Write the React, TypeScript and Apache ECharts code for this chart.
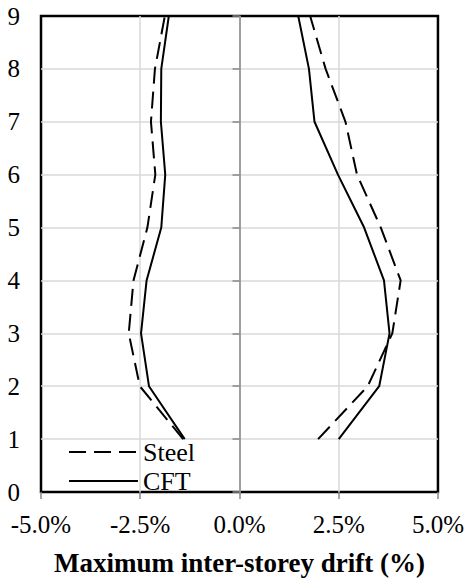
import React, { useEffect, useRef } from "react";
import * as echarts from "echarts";

const floors = [1, 2, 3, 4, 5, 6, 7, 8, 9];
const steelNeg = [-1.42, -2.51, -2.79, -2.67, -2.32, -2.12, -2.23, -2.13, -1.88];
const steelPos = [1.98, 3.23, 3.85, 4.06, 3.56, 2.96, 2.67, 2.17, 1.78];
const cftNeg = [-1.38, -2.28, -2.48, -2.34, -1.97, -1.87, -1.98, -1.97, -1.78];
const cftPos = [2.5, 3.52, 3.78, 3.64, 3.14, 2.48, 1.89, 1.75, 1.48];
const xTicks = [-5, -2.5, 0, 2.5, 5];
const legendNames = ["Steel", "CFT"];
const xTitle = "Maximum inter-storey drift (%)";

const FONT = "serif";

function pairs(xs: number[]) {
  return floors.map((f, i) => [xs[i], f]);
}

export default function App() {
  const ref = useRef<HTMLDivElement>(null);
  useEffect(() => {
    if (!ref.current) return;
    const chart = echarts.init(ref.current, undefined, { renderer: "svg" });
    const dashed = { color: "#000", width: 2, type: [17, 8] as any };
    const solid = { color: "#000", width: 2, type: "solid" as any };
    const mk = (name: string, xs: number[], ls: any) => ({
      name,
      type: "line",
      data: pairs(xs),
      symbol: "none",
      showSymbol: false,
      lineStyle: ls,
      itemStyle: { color: "#000" },
      z: 5,
    });
    chart.setOption({
      animation: false,
      backgroundColor: "#ffffff",
      grid: {
        left: 41, right: 26, top: 16, bottom: 89,
        show: true, borderColor: "#000", borderWidth: 2.5, backgroundColor: "rgba(0,0,0,0)",
      },
      legend: {
        data: legendNames,
        orient: "vertical",
        left: 68,
        top: 439,
        itemWidth: 69,
        itemHeight: 14,
        itemGap: 3,
        padding: 0,
        itemStyle: { opacity: 0 },
        textStyle: { fontFamily: FONT, fontSize: 26, color: "#000", lineHeight: 26 },
      },
      xAxis: {
        type: "value",
        min: xTicks[0],
        max: xTicks[xTicks.length - 1],
        interval: 2.5,
        name: xTitle,
        nameLocation: "middle",
        nameGap: 57,
        nameTextStyle: { fontFamily: FONT, fontSize: 27, fontWeight: "bold", color: "#000" },
        axisLine: { show: false },
        axisTick: { show: true, length: 7, lineStyle: { color: "#888", width: 1.5 } },
        axisLabel: {
          fontFamily: FONT,
          fontSize: 25,
          color: "#000",
          margin: 20,
          formatter: (v: number) => v.toFixed(1) + "%",
        },
        splitLine: {
          show: true,
          showMinLine: false,
          showMaxLine: false,
          lineStyle: { color: "#d9d9d9", width: 1.5 },
        },
      },
      yAxis: {
        type: "value",
        min: 0,
        max: 9,
        interval: 1,
        axisLine: { show: true, onZero: true, lineStyle: { color: "#888", width: 1.5 } },
        axisTick: { show: true, length: 7, lineStyle: { color: "#888", width: 1.5 } },
        axisLabel: { fontFamily: FONT, fontSize: 25, color: "#000", margin: 21 },
        splitLine: {
          show: true,
          showMinLine: false,
          showMaxLine: false,
          lineStyle: { color: "#d9d9d9", width: 1.5 },
        },
      },
      series: [
        mk("Steel", steelNeg, dashed),
        mk("CFT", cftNeg, solid),
        mk("Steel", steelPos, dashed),
        mk("CFT", cftPos, solid),
      ],
    });
    return () => chart.dispose();
  }, []);
  return (
    <div
      ref={ref}
      style={{ position: "fixed", left: 0, top: 0, width: 467, height: 581 }}
    />
  );
}
